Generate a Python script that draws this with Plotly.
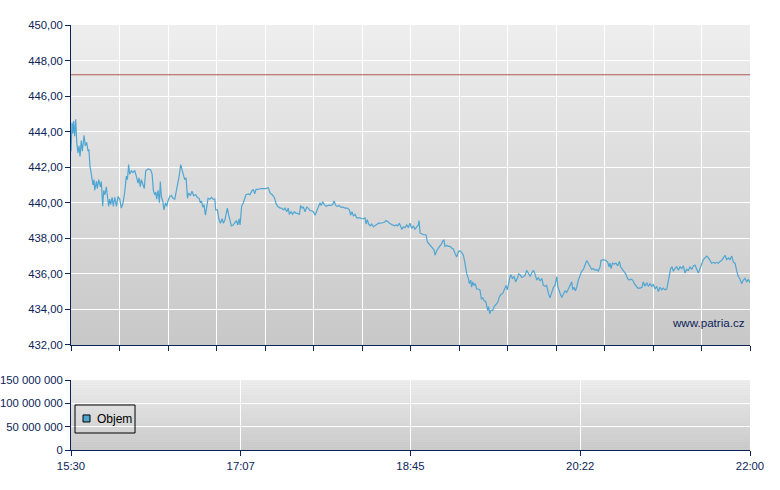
import plotly.graph_objects as go

# ---- data ----
# minutes after 15:30
minutes = [
0.0,0.6,1.1,1.5,2.1,2.7,3.3,4.0,4.6,5.2,5.9,6.5,7.5,8.2,9.0,9.8,10.3,10.9,11.7,12.6,
13.2,13.6,14.6,15.1,15.9,16.9,17.4,18.2,18.8,19.5,20.3,20.9,21.6,22.2,22.8,23.6,24.3,25.1,26.1,27.0,
28.0,28.9,29.9,30.8,31.8,32.4,33.1,33.7,34.7,35.6,36.6,37.5,38.5,39.1,39.8,40.4,41.4,42.1,42.9,44.3,
45.8,46.6,47.3,48.1,48.7,49.2,50.0,50.8,51.3,51.9,52.7,53.4,54.2,55.0,55.7,56.7,57.7,58.6,59.6,60.5,
61.5,62.3,63.0,63.8,64.6,65.3,66.1,66.9,67.6,68.6,69.5,70.5,71.6,72.6,73.6,74.3,74.9,75.7,76.4,77.2,
78.0,78.7,79.7,80.7,81.6,82.6,83.1,84.1,84.9,85.8,86.8,87.5,88.3,89.3,89.8,90.6,91.4,92.1,93.1,94.1,
95.0,95.8,96.6,97.1,98.0,99.0,100.5,101.9,102.8,103.8,104.7,105.5,106.3,107.6,108.9,110.5,112.0,113.4,114.3,115.6,
116.8,117.8,118.7,120.1,121.0,122.0,122.9,123.9,124.8,125.4,126.4,127.3,128.3,129.2,130.2,131.2,131.9,132.7,133.5,134.4,
135.4,136.3,137.3,138.2,139.2,140.2,141.1,142.1,143.0,143.6,144.6,145.5,146.5,147.8,149.2,150.3,151.1,152.0,153.0,154.0,
154.9,156.1,157.4,158.7,159.9,160.6,161.4,162.2,163.1,164.1,165.1,166.0,167.0,167.9,168.9,169.5,170.2,171.0,171.8,172.7,
173.7,174.6,175.6,176.7,177.9,179.0,180.0,180.9,181.9,182.9,183.8,184.8,185.7,186.7,187.6,188.6,189.4,190.1,190.9,191.9,
192.8,193.8,194.7,195.7,196.7,197.6,198.6,199.5,199.9,200.5,202.4,203.9,204.7,205.6,206.6,207.5,208.5,209.1,210.0,211.0,
211.9,212.9,213.5,214.2,214.8,215.8,216.7,217.7,218.6,219.6,220.6,221.5,222.5,223.4,224.4,225.4,226.3,227.3,228.2,228.8,
229.6,230.1,230.7,231.5,232.2,233.0,234.0,234.9,235.7,236.5,237.2,238.2,238.8,239.3,239.9,240.5,241.2,242.2,243.0,244.1,
245.1,246.0,247.0,248.0,248.9,249.9,250.6,251.4,252.2,252.7,253.5,254.5,255.4,256.4,257.1,257.9,258.9,259.8,260.8,261.7,
262.7,263.7,264.6,265.6,266.5,267.5,268.4,269.4,270.4,271.3,272.3,273.2,274.2,275.1,276.1,277.1,278.0,279.0,279.7,280.5,
281.3,282.0,282.8,283.8,284.7,285.7,286.6,287.6,288.2,288.9,289.7,290.5,291.4,292.4,293.3,294.3,295.2,296.2,297.1,298.1,
299.1,300.0,301.0,301.9,302.9,303.9,304.4,305.8,307.3,308.3,309.0,309.6,310.2,311.0,311.9,313.0,314.0,315.0,315.7,316.7,
317.6,318.6,319.6,320.5,321.5,322.6,323.6,324.5,325.5,326.8,328.0,328.7,329.7,330.7,331.6,332.6,333.5,334.5,335.4,336.4,
337.4,338.3,339.3,340.2,341.2,342.2,343.1,343.7,344.4,345.2,346.0,346.9,347.9,348.9,349.8,350.8,351.7,352.7,353.6,354.6,
355.6,356.5,357.5,358.4,359.4,360.3,361.3,362.3,363.2,364.2,365.1,366.1,367.0,368.0,369.0,369.9,370.9,371.8,372.8,373.7,
374.7,375.7,376.6,377.6,378.5,379.5,380.5,381.4,382.4,383.3,384.3,385.2,386.2,387.1,388.1,389.1,390.0]

price = [
442.9,444.5,443.9,444.6,443.75,444.7,443.4,442.8,443.2,442.6,443.5,442.9,443.8,443.2,443.4,442.9,443.0,442.05,441.6,441.0,
441.3,440.7,441.2,440.8,441.3,440.9,441.2,439.8,440.7,440.45,440.9,440.2,439.8,440.2,439.9,440.3,439.8,440.3,439.8,440.35,
440.2,439.7,440.0,440.55,441.5,441.3,442.15,441.6,441.8,441.7,441.8,441.5,441.1,441.4,440.9,441.3,441.0,440.8,441.8,441.9,
441.85,441.6,440.7,440.45,440.6,440.2,440.7,440.0,441.2,440.35,440.1,439.6,440.0,439.8,440.1,440.35,440.4,440.25,440.2,440.65,
441.1,441.6,442.15,441.8,441.6,441.3,441.4,440.25,440.55,440.4,440.65,440.4,440.45,440.3,440.25,440.0,440.1,439.75,439.9,439.3,
439.8,440.25,440.2,440.3,440.2,440.2,439.6,439.6,439.1,438.85,439.1,438.85,439.0,439.5,439.7,439.3,438.95,438.7,438.75,438.85,
439.0,438.75,439.1,438.75,439.8,440.0,440.45,440.5,440.45,440.65,440.75,440.5,440.75,440.75,440.8,440.8,440.8,440.85,440.55,440.45,
440.3,439.95,439.8,439.7,439.7,439.6,439.7,439.5,439.7,439.35,439.5,439.35,439.5,439.4,439.4,439.35,439.85,439.7,439.75,439.5,
439.75,439.7,439.55,439.55,439.5,439.3,439.5,439.7,440.0,439.85,440.05,439.9,439.8,439.85,439.85,439.9,440.1,439.85,439.8,439.85,
439.75,439.75,439.7,439.7,439.6,439.3,439.5,439.25,439.35,439.15,439.15,439.15,439.1,439.1,439.15,438.8,439.05,438.8,438.7,438.8,
438.65,438.7,438.75,438.85,438.85,438.9,438.9,439.0,438.95,438.85,438.8,438.75,438.7,438.75,438.7,438.85,438.6,438.5,438.65,438.6,
438.75,438.6,438.85,438.55,438.7,438.5,438.65,438.75,439.0,438.3,438.2,438.2,437.8,437.7,437.55,437.45,437.35,437.05,437.3,437.45,
437.55,437.7,437.85,437.9,437.55,437.6,437.55,437.55,437.45,437.4,437.15,436.95,437.25,437.3,437.2,437.05,436.6,436.0,435.75,435.45,
435.65,435.25,435.55,435.35,435.45,435.15,435.15,435.1,434.6,434.65,434.5,434.45,434.2,433.95,434.15,433.75,433.95,433.95,434.15,434.3,
434.4,434.7,434.85,434.9,435.1,435.35,435.1,435.55,435.85,435.95,435.75,435.85,435.55,435.75,436.0,435.95,435.8,435.85,435.9,436.2,
436.0,435.85,436.05,436.2,436.0,435.65,435.8,435.6,435.75,435.35,435.3,435.35,434.9,434.65,434.95,435.25,435.35,435.85,435.25,434.95,
434.8,434.7,434.9,435.05,434.95,435.15,435.35,435.55,435.1,435.25,435.05,435.25,435.65,435.9,436.15,436.25,436.5,436.75,436.6,436.4,
436.25,436.3,436.2,436.25,436.15,436.4,436.75,436.8,436.75,436.65,436.4,436.6,436.3,436.6,436.55,436.6,436.45,436.7,436.4,436.25,
436.1,436.0,435.75,435.65,435.7,435.65,435.45,435.3,435.2,435.2,435.25,435.55,435.3,435.5,435.3,435.45,435.3,435.4,435.15,435.3,
435.0,435.25,435.1,435.2,435.1,435.15,435.65,436.15,436.3,436.4,436.15,436.3,436.4,436.2,436.4,436.3,436.45,436.05,436.25,436.2,
436.4,436.25,436.45,436.5,436.3,436.05,436.3,436.6,436.8,436.9,437.0,436.9,436.75,436.6,436.65,436.6,436.65,436.6,436.7,436.75,
436.9,437.05,436.8,436.9,436.8,437.0,436.65,436.6,436.15,435.85,435.7,435.45,435.65,435.75,435.55,435.7,435.5]

reference_price = 447.2
volume_minutes = []
volume = []
volume_label = "Objem"

session_minutes = 390
time_tick_vals = [0, 97.5, 195, 292.5, 390]
time_tick_text = ["15:30", "17:07", "18:45", "20:22", "22:00"]
price_range = [432, 450]
volume_range = [0, 150000000]

NAVY = "#0a2458"
LINE = "#4fa6d3"
FONT = "Liberation Sans"
FS = 11.3

fig = go.Figure()
fig.add_trace(go.Scatter(x=minutes, y=price, mode="lines", xaxis="x", yaxis="y",
                         line=dict(color=LINE, width=1.2), showlegend=False, hoverinfo="x+y"))
fig.add_trace(go.Bar(x=volume_minutes, y=volume, xaxis="x2", yaxis="y2", name=volume_label,
                     marker=dict(color=LINE, line=dict(color="#000000", width=1)), showlegend=False))

# gradient backgrounds
shapes = []
N = 40
for xr, yr in (("x domain", "y domain"), ("x2 domain", "y2 domain")):
    for i in range(N):
        f = (i + 0.5) / N
        c = int(round(200 + (238 - 200) * f))
        shapes.append(dict(type="rect", xref=xr, yref=yr, x0=0, x1=1, y0=i / N, y1=(i + 1) / N,
                           fillcolor=f"rgb({c},{c},{c})", line=dict(width=0), layer="below"))
shapes.append(dict(type="line", xref="x domain", yref="y", x0=0, x1=1,
                   y0=reference_price, y1=reference_price,
                   line=dict(color="#b25a52", width=1)))

# legend box for the volume panel (drawn manually, compact like the original)
shapes.append(dict(type="rect", xref="paper", yref="paper", x0=0.0059, x1=0.0943, y0=0.040, y1=0.1059,
                   line=dict(color="#000000", width=1), fillcolor="rgba(0,0,0,0)", layer="above"))
shapes.append(dict(type="rect", xref="paper", yref="paper", x0=0.0177, x1=0.0280, y0=0.0659, y1=0.0824,
                   line=dict(color="#000000", width=1), fillcolor=LINE, layer="above"))

top_ticks = [i * session_minutes / 14 for i in range(15)]
axis_common = dict(showline=True, linecolor=NAVY, linewidth=1, ticks="outside", tickcolor=NAVY,
                   ticklen=5, tickwidth=1, gridcolor="#ffffff", gridwidth=1, zeroline=False,
                   automargin=False, tickfont=dict(family=FONT, size=FS, color=NAVY))

fig.update_layout(
    width=780, height=490,
    margin=dict(l=71, r=30, t=25, b=40),
    paper_bgcolor="#ffffff", plot_bgcolor="#d8d8d8",
    separators=", ",
    font=dict(family=FONT, size=FS, color=NAVY),
    shapes=shapes,
    showlegend=False,
    xaxis=dict(domain=[0, 1], anchor="y", range=[0, session_minutes], tickmode="array",
               tickvals=top_ticks, showticklabels=False, **axis_common),
    yaxis=dict(domain=[0.2471, 1], anchor="x", range=price_range, dtick=2, tickformat=".2f",
               **axis_common),
    xaxis2=dict(domain=[0, 1], anchor="y2", range=[0, session_minutes], tickmode="array",
                tickvals=time_tick_vals, ticktext=time_tick_text, **axis_common),
    yaxis2=dict(domain=[0, 0.1647], anchor="x2", range=volume_range, dtick=50000000,
                tickformat=",d", **axis_common),
    annotations=[
        dict(text="www.patria.cz", xref="x domain", yref="y domain", x=0.995, y=0.069,
             xanchor="right", yanchor="middle", showarrow=False,
             font=dict(family=FONT, size=11.6, color=NAVY)),
        dict(text=volume_label, xref="paper", yref="paper", x=0.0353, y=0.0729,
             xanchor="left", yanchor="middle", showarrow=False,
             font=dict(family=FONT, size=12, color="#000000")),
    ],
)

fig.write_html("out.html", config={"displayModeBar": False},
               post_script="document.body.style.margin='0px';")
